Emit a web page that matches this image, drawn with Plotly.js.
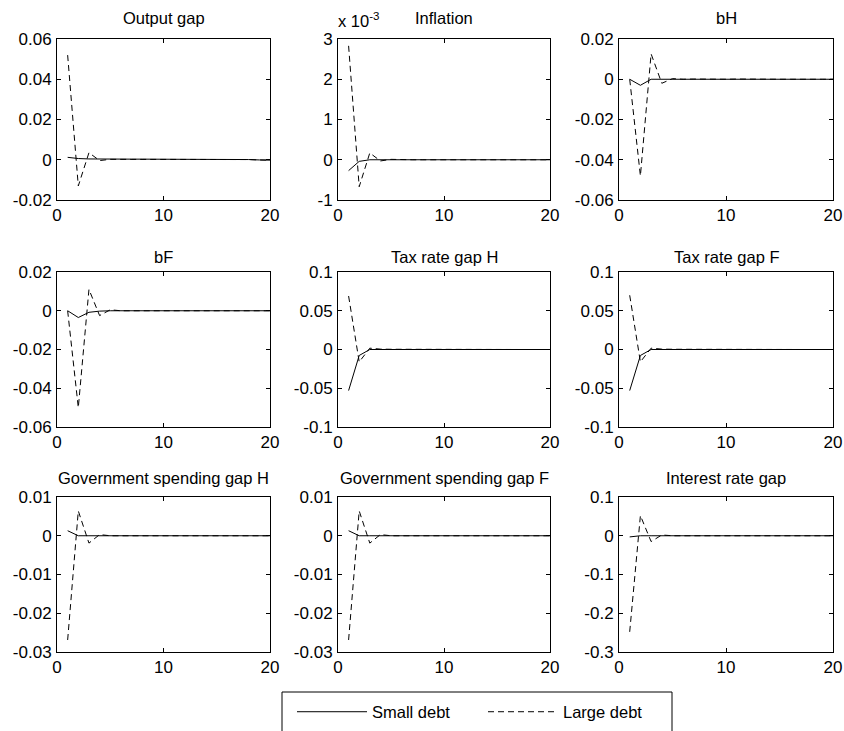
<!DOCTYPE html>
<html>
<head>
<meta charset="utf-8">
<script src="https://cdn.plot.ly/plotly-3.0.1.min.js"></script>
<style>
  html, body { margin: 0; padding: 0; background: #fff; }
  #chart { width: 844px; height: 731px; }
</style>
</head>
<body>
<div id="chart"></div>
<script>
// Impulse responses over 20 periods, small-debt vs large-debt economies
const periods = [1, 2, 3, 4, 5, 6, 7, 8, 9, 10, 11, 12, 13, 14, 15, 16, 17, 18, 19, 20];

const outputGapSmall = [0.0012, 0.0006, 0.0004, 0.0003, 0.0003, 0.0003, 0.0003, 0.0003, 0.0003, 0.0003, 0.0003, 0.0003, 0.0003, 0.0003, 0.0003, 0.0003, 0.0003, 0.0001, -0.0001, -0.0002];
const outputGapLarge = [0.052, -0.013, 0.0035, -0.0004, 0.0002, 0.0002, 0.0003, 0.0002, 0.0003, 0.0003, 0.0003, 0.0003, 0.0003, 0.0002, 0.0003, 0.0003, 0.0003, 0.0001, -0.0001, -0.0002];

const inflationSmall = [-0.00027, -0.00004, 0.0, 0.0, 0.0, 0.0, 0.0, 0.0, 0.0, 0.0, 0.0, 0.0, 0.0, 0.0, 0.0, 0.0, 0.0, 0.0, 0.0, 0.0];
const inflationLarge = [0.00283, -0.00067, 0.00017, -0.00003, 0.00001, 0.0, 0.0, 0.0, 0.0, 0.0, 0.0, 0.0, 0.0, 0.0, 0.0, 0.0, 0.0, 0.0, 0.0, 0.0];

const bHSmall = [0.0, -0.003, 0.0, 0.0, 0.0, 0.0, 0.0, 0.0, 0.0, 0.0, 0.0, 0.0, 0.0, 0.0, 0.0, 0.0, 0.0, 0.0, 0.0, 0.0];
const bHLarge = [0.0, -0.048, 0.0126, -0.002, 0.0003, 0.0, 0.0001, 0.0, 0.0, 0.0, 0.0001, 0.0, 0.0, 0.0, 0.0, 0.0, 0.0001, 0.0, 0.0, 0.0];

const bFSmall = [0.0, -0.0035, -0.0008, -0.0002, 0.0, 0.0, 0.0, 0.0, 0.0, 0.0, 0.0, 0.0, 0.0, 0.0, 0.0, 0.0, 0.0, 0.0, 0.0, 0.0];
const bFLarge = [0.0, -0.05, 0.011, -0.0025, 0.0005, 0.0, 0.0, 0.0, 0.0, 0.0, 0.0, 0.0, 0.0, 0.0, 0.0, 0.0, 0.0, 0.0, 0.0, 0.0];

const taxHSmall = [-0.053, -0.0077, 0.0, 0.0, 0.0, 0.0, 0.0, 0.0, 0.0, 0.0, 0.0, 0.0, 0.0, 0.0, 0.0, 0.0, 0.0, 0.0, 0.0, 0.0];
const taxHLarge = [0.069, -0.016, 0.0017, 0.0005, 0.0003, 0.0002, 0.0001, 0.0, 0.0, 0.0, 0.0, 0.0, 0.0, 0.0, 0.0, 0.0, 0.0, 0.0, 0.0, 0.0];

const taxFSmall = [-0.053, -0.0077, 0.0, 0.0, 0.0, 0.0, 0.0, 0.0, 0.0, 0.0, 0.0, 0.0, 0.0, 0.0, 0.0, 0.0, 0.0, 0.0, 0.0, 0.0];
const taxFLarge = [0.070, -0.016, 0.0017, 0.0005, 0.0003, 0.0002, 0.0001, 0.0, 0.0, 0.0, 0.0, 0.0, 0.0, 0.0, 0.0, 0.0, 0.0, 0.0, 0.0, 0.0];

const govHSmall = [0.0013, 0.0, 0.0, 0.0, 0.0, 0.0, 0.0, 0.0, 0.0, 0.0, 0.0, 0.0, 0.0, 0.0, 0.0, 0.0, 0.0, 0.0, 0.0, 0.0];
const govHLarge = [-0.0269, 0.0064, -0.0019, 0.0003, 0.0, 0.0, 0.0, 0.0, 0.0, 0.0, 0.0, 0.0, 0.0, 0.0, 0.0, 0.0, 0.0, 0.0, 0.0, 0.0];

const govFSmall = [0.0013, 0.0, 0.0, 0.0, 0.0, 0.0, 0.0, 0.0, 0.0, 0.0, 0.0, 0.0, 0.0, 0.0, 0.0, 0.0, 0.0, 0.0, 0.0, 0.0];
const govFLarge = [-0.0269, 0.0064, -0.0019, 0.0003, 0.0, 0.0, 0.0, 0.0, 0.0, 0.0, 0.0, 0.0, 0.0, 0.0, 0.0, 0.0, 0.0, 0.0, 0.0, 0.0];

const interestSmall = [-0.003, 0.0, 0.0, 0.0, 0.0, 0.0, 0.0, 0.0, 0.0, 0.0, 0.0, 0.0, 0.0, 0.0, 0.0, 0.0, 0.0, 0.0, 0.0, 0.0];
const interestLarge = [-0.248, 0.052, -0.015, 0.002, 0.0, 0.0, 0.0, 0.0, 0.0, 0.0, 0.0, 0.0, 0.0, 0.0, 0.0, 0.0, 0.0, 0.0, 0.0, 0.0];

const panelTitles = ['Output gap', 'Inflation', 'bH', 'bF', 'Tax rate gap H', 'Tax rate gap F',
                     'Government spending gap H', 'Government spending gap F', 'Interest rate gap'];

const xTickVals = [0, 10, 20];
const xTickText = ['0', '10', '20'];

const yTickVals = [
  [-0.02, 0, 0.02, 0.04, 0.06],
  [-0.001, 0, 0.001, 0.002, 0.003],
  [-0.06, -0.04, -0.02, 0, 0.02],
  [-0.06, -0.04, -0.02, 0, 0.02],
  [-0.1, -0.05, 0, 0.05, 0.1],
  [-0.1, -0.05, 0, 0.05, 0.1],
  [-0.03, -0.02, -0.01, 0, 0.01],
  [-0.03, -0.02, -0.01, 0, 0.01],
  [-0.3, -0.2, -0.1, 0, 0.1]
];
const yTickText = [
  ['-0.02', '0', '0.02', '0.04', '0.06'],
  ['-1', '0', '1', '2', '3'],
  ['-0.06', '-0.04', '-0.02', '0', '0.02'],
  ['-0.06', '-0.04', '-0.02', '0', '0.02'],
  ['-0.1', '-0.05', '0', '0.05', '0.1'],
  ['-0.1', '-0.05', '0', '0.05', '0.1'],
  ['-0.03', '-0.02', '-0.01', '0', '0.01'],
  ['-0.03', '-0.02', '-0.01', '0', '0.01'],
  ['-0.3', '-0.2', '-0.1', '0', '0.1']
];

const smallSeries = [outputGapSmall, inflationSmall, bHSmall, bFSmall, taxHSmall, taxFSmall, govHSmall, govFSmall, interestSmall];
const largeSeries = [outputGapLarge, inflationLarge, bHLarge, bFLarge, taxHLarge, taxFLarge, govHLarge, govFLarge, interestLarge];

// Figure geometry (pixels) of the 3x3 grid of axes boxes
const W = 844, H = 731;
const colPx = [[57, 270], [338, 550], [619, 833]];
const rowPx = [[39, 200], [272, 427], [497, 652]];
const titleCenterPx = [18, 257, 478];

const FONT = 'Liberation Sans, Arial, Helvetica, sans-serif';
const TICK_SIZE = 17;
const TEXT_SIZE = 16.5;
const traces = [];
const layout = {
  width: W, height: H,
  margin: { l: 0, r: 0, t: 0, b: 0 },
  paper_bgcolor: '#ffffff',
  plot_bgcolor: '#ffffff',
  font: { family: FONT, size: TEXT_SIZE, color: '#000' },
  showlegend: true,
  legend: {
    orientation: 'h',
    x: 292 / W, xanchor: 'left',
    y: 1 - 712 / H, yanchor: 'middle',
    bgcolor: 'rgba(0,0,0,0)',
    borderwidth: 0,
    itemwidth: 70,
    entrywidth: 106,
    font: { family: FONT, size: TEXT_SIZE, color: '#000' }
  },
  annotations: [],
  shapes: [{
    type: 'rect', xref: 'paper', yref: 'paper',
    x0: 282 / W, x1: 672 / W, y0: 1 - 692 / H, y1: -0.05,
    line: { color: '#000', width: 1 }, fillcolor: 'rgba(0,0,0,0)'
  }]
};

for (let i = 0; i < 9; i++) {
  const r = Math.floor(i / 3), c = i % 3;
  const n = i + 1;
  const xa = n === 1 ? 'x' : 'x' + n;
  const ya = n === 1 ? 'y' : 'y' + n;
  const xKey = n === 1 ? 'xaxis' : 'xaxis' + n;
  const yKey = n === 1 ? 'yaxis' : 'yaxis' + n;
  const yv = yTickVals[i];

  traces.push({
    x: periods, y: smallSeries[i], xaxis: xa, yaxis: ya,
    type: 'scatter', mode: 'lines', name: 'Small debt',
    line: { color: '#000', width: 1, dash: 'solid' },
    showlegend: i === 0, hoverinfo: 'skip'
  });
  traces.push({
    x: periods, y: largeSeries[i], xaxis: xa, yaxis: ya,
    type: 'scatter', mode: 'lines', name: 'Large debt',
    line: { color: '#000', width: 1, dash: '6px,4px' },
    showlegend: i === 0, hoverinfo: 'skip'
  });

  const axisCommon = {
    showgrid: false, zeroline: false,
    showline: true, linecolor: '#000', linewidth: 1,
    mirror: 'ticks', ticks: 'inside', ticklen: 4, tickwidth: 1, tickcolor: '#000',
    tickfont: { family: FONT, size: TICK_SIZE, color: '#000' },
    fixedrange: true
  };
  layout[xKey] = Object.assign({}, axisCommon, {
    domain: [colPx[c][0] / W, colPx[c][1] / W],
    anchor: ya,
    range: [0, 20],
    tickmode: 'array', tickvals: xTickVals, ticktext: xTickText
  });
  layout[yKey] = Object.assign({}, axisCommon, {
    domain: [1 - rowPx[r][1] / H, 1 - rowPx[r][0] / H],
    anchor: xa,
    range: [yv[0], yv[yv.length - 1]],
    tickmode: 'array', tickvals: yv, ticktext: yTickText[i],
    ticklabelstandoff: 1
  });

  layout.annotations.push({
    text: panelTitles[i], xref: 'paper', yref: 'paper',
    x: (colPx[c][0] + colPx[c][1]) / 2 / W,
    y: 1 - titleCenterPx[r] / H,
    xanchor: 'center', yanchor: 'middle', showarrow: false,
    font: { family: FONT, size: TEXT_SIZE, color: '#000' }
  });
}

// Scale factor shown above the inflation axes
layout.annotations.push({
  text: 'x 10<sup>-3</sup>', xref: 'paper', yref: 'paper',
  x: 336 / W, y: 1 - 20 / H,
  xanchor: 'left', yanchor: 'middle', showarrow: false,
  font: { family: FONT, size: TEXT_SIZE, color: '#000' }
});

Plotly.newPlot('chart', traces, layout, { displayModeBar: false, staticPlot: true });
</script>
</body>
</html>
